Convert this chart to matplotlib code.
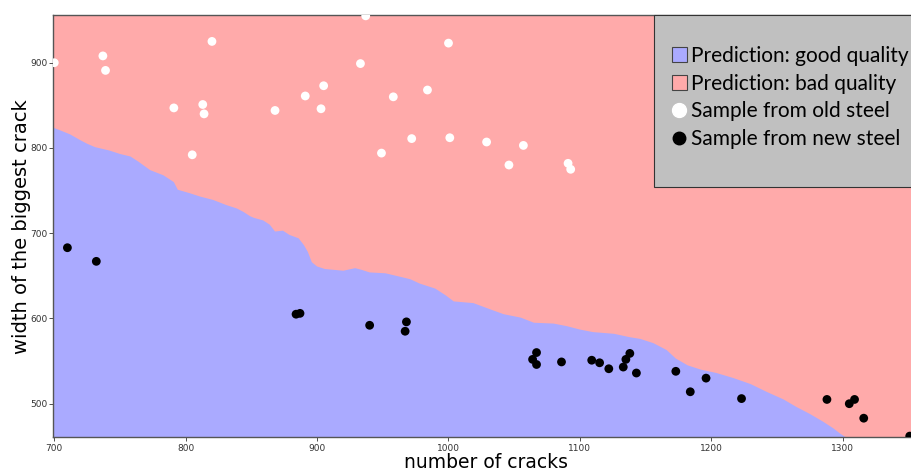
import matplotlib
matplotlib.use("Agg")
import matplotlib.pyplot as plt
from matplotlib.patches import Patch, Rectangle
from matplotlib.lines import Line2D

# decision boundary (good quality below the line)
bound_x = [699, 704, 712, 720, 725, 731, 742, 750, 758, 764, 773, 783, 791, 794,
           803, 811, 821, 831, 839, 844, 849, 852, 859, 864, 868, 874, 879, 886,
           890, 893, 896, 900, 906, 920, 929, 934, 940, 952, 963, 971, 978, 986,
           990, 998, 1004, 1019, 1033, 1042, 1055, 1065, 1080, 1090, 1100, 1110,
           1126, 1138, 1146, 1156, 1166, 1173, 1182, 1192, 1204, 1217, 1230, 1242,
           1255, 1265, 1275, 1285, 1293, 1298, 1303]
bound_y = [824, 821, 816, 809, 805, 801, 797, 793, 790, 784, 774, 768, 760, 751,
           747, 743, 739, 733, 729, 725, 720, 718, 715, 710, 702, 703, 698, 694,
           686, 678, 666, 661, 658, 656, 659, 657, 654, 653, 649, 646, 641, 637,
           635, 627, 620, 618, 610, 605, 601, 595, 594, 591, 587, 584,
           582, 578, 576, 571, 563, 553, 545, 540, 536, 530, 523, 514,
           505, 496, 488, 479, 471, 465, 460]

# old steel samples (white)
old_x = [700, 737, 739, 820, 791, 813, 814, 805, 868, 891, 903, 905, 937, 1000,
         933, 958, 984, 972, 1001, 949, 1029, 1057, 1046, 1091, 1093]
old_y = [900, 908, 891, 925, 847, 851, 840, 792, 844, 861, 846, 873, 955, 923,
         899, 860, 868, 811, 812, 794, 807, 803, 780, 782, 775]

# new steel samples (black)
new_x = [710, 732, 884, 887, 940, 968, 967, 1064, 1067, 1067, 1086, 1109, 1115,
         1122, 1133, 1135, 1138, 1143, 1173, 1184, 1196, 1223, 1288, 1305, 1309,
         1316, 1351]
new_y = [683, 667, 605, 606, 592, 596, 585, 552, 560, 546, 549, 551, 548,
         541, 543, 552, 559, 536, 538, 514, 530, 506, 505, 500, 505,
         483, 462]

good_color = '#AAAAFF'
bad_color = '#FFAAAA'

W, H = 911, 470
fig = plt.figure(figsize=(W / 100, H / 100), dpi=100)
# axes run a bit past the right edge, like the cropped original
ax = fig.add_axes([0.0587, 0.0696, 0.950, 0.8985])
ax.set_facecolor(bad_color)
ax.fill_between(bound_x, 0, bound_y, color=good_color, lw=0)

ax.scatter(old_x, old_y, s=40, c='white', edgecolors='none', zorder=3)
ax.scatter(new_x, new_y, s=40, c='black', edgecolors='none', zorder=3)

ax.set_xlim(699.4, 1358)
ax.set_ylim(460.6, 956.0)
ax.set_xticks([700, 800, 900, 1000, 1100, 1200, 1300])
ax.set_yticks([500, 600, 700, 800, 900])
ax.tick_params(labelsize=6.5, colors='#333333', length=3, width=0.6, pad=1.5)
for sp in ax.spines.values():
    sp.set_color('#555555')
    sp.set_linewidth(1.0)

ax.set_xlabel('number of cracks', fontsize=13.5, labelpad=0)
ax.set_ylabel('width of the biggest crack', fontsize=14, labelpad=-0.5)

# grey legend box, drawn by hand so its padding matches the original
box = Rectangle((654 / W, 1 - 187 / H), 280 / W, 172 / H, transform=fig.transFigure,
                facecolor='#C0C0C0', edgecolor='#333333', lw=0.8, zorder=5)
fig.add_artist(box)

handles = [
    Patch(facecolor=good_color, edgecolor='#444444', lw=0.8),
    Patch(facecolor=bad_color, edgecolor='#444444', lw=0.8),
    Line2D([], [], marker='o', ls='', markersize=10, markerfacecolor='white',
           markeredgecolor='white'),
    Line2D([], [], marker='o', ls='', markersize=9, markerfacecolor='black',
           markeredgecolor='black'),
]
labels = ['Prediction: good quality', 'Prediction: bad quality',
          'Sample from old steel', 'Sample from new steel']
leg = fig.legend(handles, labels, loc='upper left',
                 bbox_to_anchor=(672 / W, 1 - 46 / H),
                 prop={'family': 'Lato', 'size': 15},
                 frameon=False, borderpad=0, borderaxespad=0,
                 handlelength=0.7, handleheight=0.7, handletextpad=0.2,
                 labelspacing=0.37)
leg.set_zorder(6)

fig.savefig('out.png', dpi=100)
